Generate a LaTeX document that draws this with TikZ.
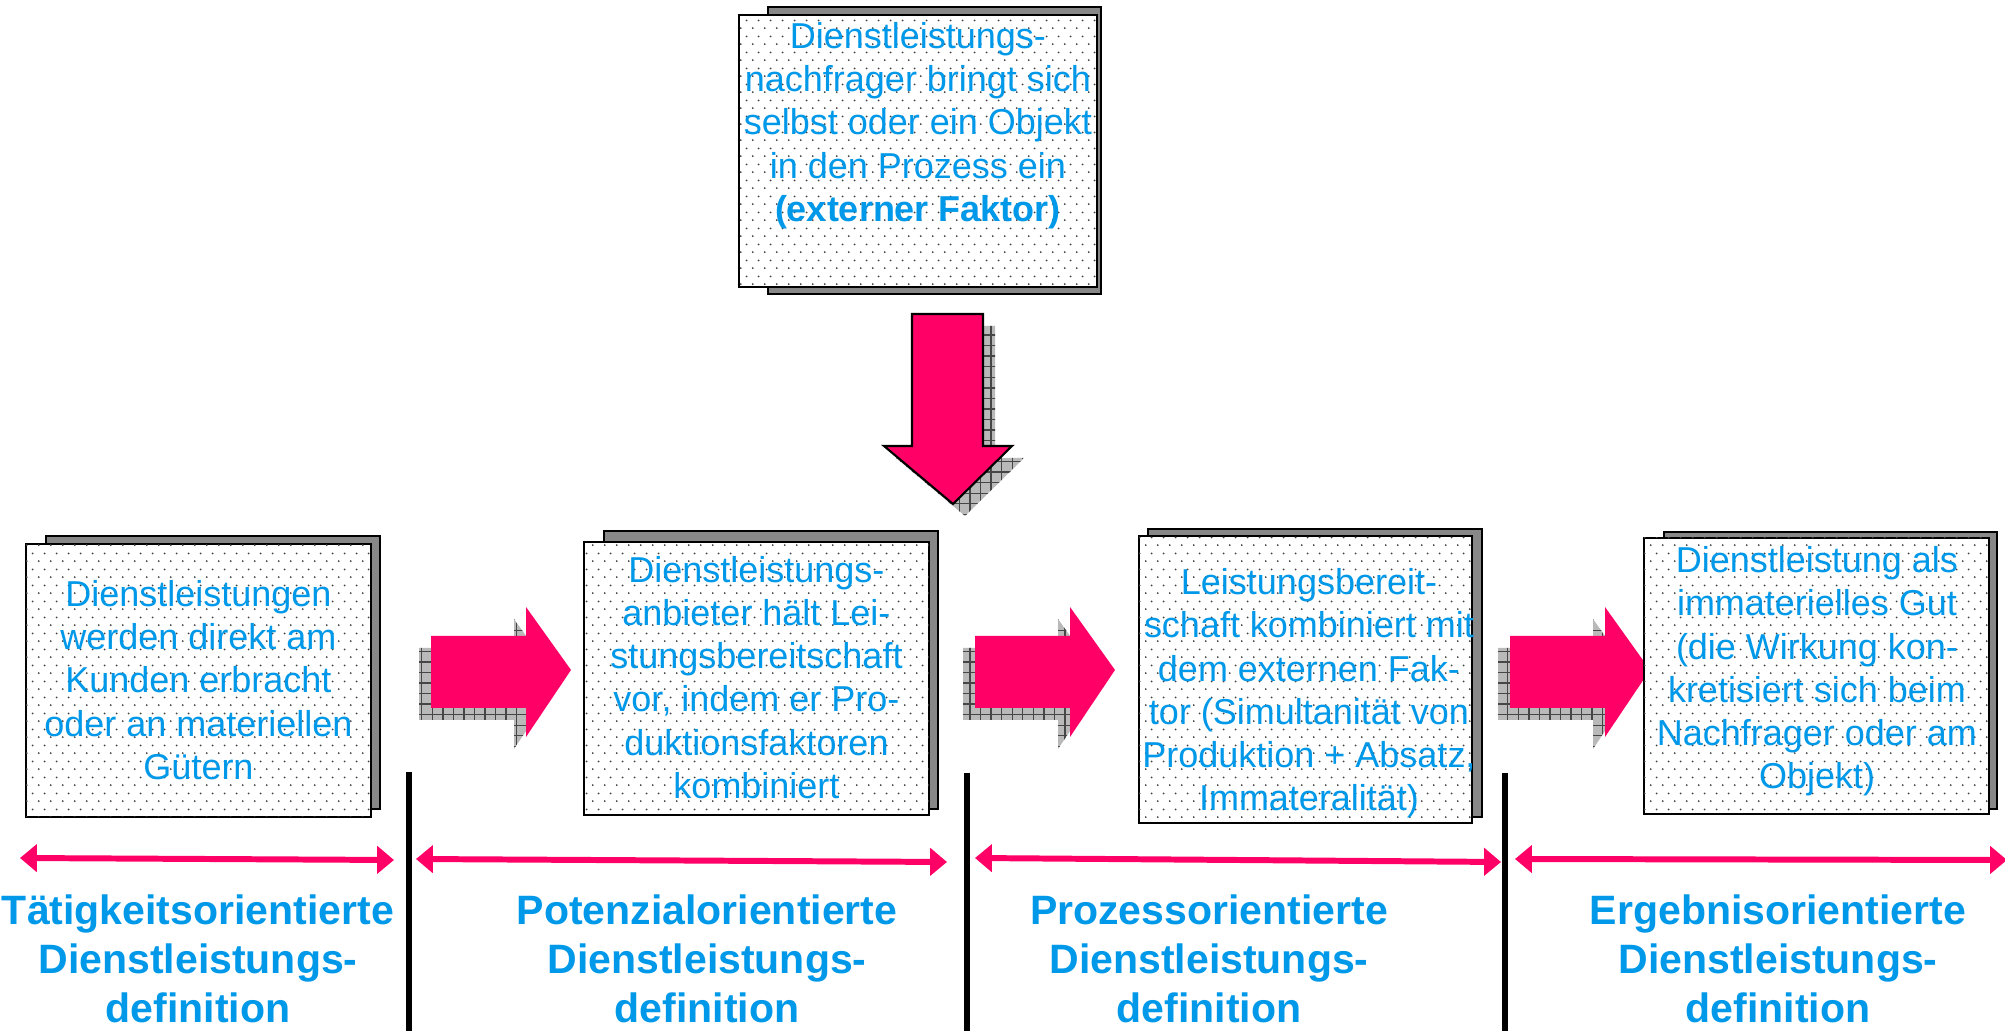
\documentclass[tikz,border=0pt]{standalone}
\usepackage{fontspec}
\setmainfont{Liberation Sans}
\usetikzlibrary{arrows.meta,patterns}
\definecolor{textblau}{RGB}{0,152,232}
\definecolor{pfeilrot}{RGB}{255,0,102}
\definecolor{schattengrau}{RGB}{136,136,136}
\pgfdeclarepatternformonly{punkte}{\pgfpointorigin}{\pgfpoint{3.5pt}{4.6pt}}{\pgfpoint{3.5pt}{4.6pt}}{%
  \pgfpathcircle{\pgfpoint{0.85pt}{1.15pt}}{0.3pt}%
  \pgfpathcircle{\pgfpoint{2.6pt}{3.45pt}}{0.3pt}%
  \pgfusepath{fill}}

\begin{document}
\begin{tikzpicture}[
  kasten/.style={draw=black,line width=0.5pt,fill=white,postaction={pattern=punkte,pattern color=black!75},inner sep=0pt},
  schatten/.style={draw=black,line width=0.5pt,fill=schattengrau},
  kastentext/.style={text=textblau,align=center,inner sep=0pt,font=\fontsize{10.24pt}{12.3pt}\selectfont},
  deftext/.style={text=textblau,align=center,inner sep=0pt,font=\fontsize{11.67pt}{14pt}\selectfont\bfseries},
  pfeilschatten/.style={fill=gray!55,postaction={pattern=grid,pattern color=gray!55!black}},
  spanne/.style={<->,draw=pfeilrot,line width=1.7pt},
  trenner/.style={line width=1.5pt},
  >={Triangle[length=4.8pt,width=7.7pt]}]
  \useasboundingbox (0,0) rectangle (20.05,-10.31);

  \fill[pfeilschatten,xshift=0.12cm,yshift=-0.12cm] (9.12,-3.14) -- (9.83,-3.14) -- (9.83,-4.46) -- (10.12,-4.46) -- (9.53,-5.04) -- (8.84,-4.46) -- (9.12,-4.46) -- cycle;
  \filldraw[fill=pfeilrot,draw=black,line width=0.6pt] (9.12,-3.14) -- (9.83,-3.14) -- (9.83,-4.46) -- (10.12,-4.46) -- (9.53,-5.04) -- (8.84,-4.46) -- (9.12,-4.46) -- cycle;

  \foreach \x in {4.31,9.75,15.10} {
    \fill[pfeilschatten,xshift=-0.12cm,yshift=-0.12cm] (\x,-6.36) -- ++(0.95,0) -- ++(0,0.29) -- ++(0.45,-0.63) -- ++(-0.45,-0.67) -- ++(0,0.29) -- ++(-0.95,0) -- cycle;
    \fill[pfeilrot] (\x,-6.36) -- ++(0.95,0) -- ++(0,0.29) -- ++(0.45,-0.63) -- ++(-0.45,-0.67) -- ++(0,0.29) -- ++(-0.95,0) -- cycle;
  }

  \draw[schatten] (7.68,-0.07) rectangle (11.01,-2.94);
  \draw[schatten] (0.46,-5.36) rectangle (3.80,-8.09);
  \draw[schatten] (6.04,-5.31) rectangle (9.38,-8.09);
  \draw[schatten] (11.48,-5.29) rectangle (14.82,-8.17);
  \draw[schatten] (16.64,-5.32) rectangle (19.97,-8.09);

  \node[kasten,minimum width=3.58cm,minimum height=2.72cm] (extern) at (9.18,-1.51) {};
  \node[kasten,minimum width=3.45cm,minimum height=2.73cm] (taetig) at (1.985,-6.805) {};
  \node[kasten,minimum width=3.45cm,minimum height=2.73cm] (potenzial) at (7.565,-6.785) {};
  \node[kasten,minimum width=3.33cm,minimum height=2.87cm] (prozess) at (13.055,-6.795) {};
  \node[kasten,minimum width=3.45cm,minimum height=2.76cm] (ergebnis) at (18.165,-6.76) {};

  \node[kastentext] (externtext) at (9.18,-1.255) {Dienstleistungs-\\nachfrager bringt sich\\selbst oder ein Objekt\\in den Prozess ein\\\textbf{(externer Faktor)}};
  \node[kastentext] (taetigtext) at (1.985,-6.80) {Dienstleistungen\\werden direkt am\\Kunden erbracht\\oder an materiellen\\Gütern};
  \node[kastentext] (potenzialtext) at (7.565,-6.775) {Dienstleistungs-\\anbieter hält Lei-\\stungsbereitschaft\\vor, indem er Pro-\\duktionsfaktoren\\kombiniert};
  \node[kastentext] (prozesstext) at (13.09,-6.935) {Leistungsbereit-\\schaft kombiniert mit\\dem externen Fak-\\tor (Simultanität von\\Produktion + Absatz,\\Immateralität)};
  \node[kastentext] (ergebnistext) at (18.17,-6.715) {Dienstleistung als\\immaterielles Gut\\(die Wirkung kon-\\kretisiert sich beim\\Nachfrager oder am\\Objekt)};

  \draw[trenner] (4.09,-7.72) -- (4.09,-10.31);
  \draw[trenner] (9.67,-7.73) -- (9.67,-10.31);
  \draw[trenner] (15.05,-7.73) -- (15.05,-10.31);

  \draw[spanne] (0.20,-8.58) -- (3.94,-8.60);
  \draw[spanne] (4.16,-8.59) -- (9.47,-8.62);
  \draw[spanne] (9.75,-8.58) -- (15.01,-8.62);
  \draw[spanne] (15.15,-8.59) -- (20.07,-8.60);

  \node[deftext] (def1) at (1.98,-9.59) {Tätigkeitsorientierte\\Dienstleistungs-\\definition};
  \node[deftext] (def2) at (7.07,-9.59) {Potenzialorientierte\\Dienstleistungs-\\definition};
  \node[deftext] (def3) at (12.09,-9.59) {Prozessorientierte\\Dienstleistungs-\\definition};
  \node[deftext] (def4) at (17.78,-9.59) {Ergebnisorientierte\\Dienstleistungs-\\definition};

\end{tikzpicture}
\end{document}
